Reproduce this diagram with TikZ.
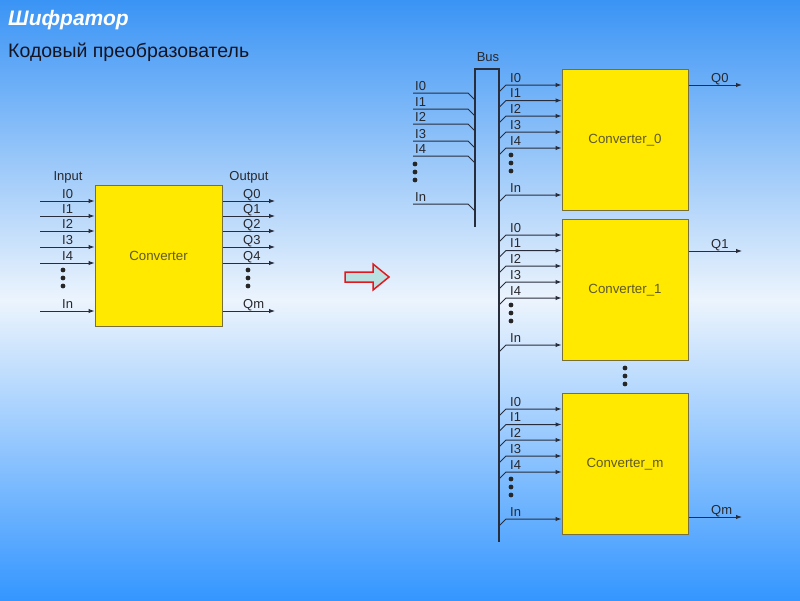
\documentclass[tikz,border=0pt]{standalone}
\usepackage{fontspec}
\setmainfont{Liberation Sans}
\usetikzlibrary{arrows.meta}
\definecolor{bgtop}{RGB}{58,148,245}
\definecolor{bgmid}{RGB}{236,244,253}
\definecolor{bgbot}{RGB}{52,150,255}
\definecolor{boxfill}{RGB}{255,233,0}
\definecolor{boxline}{RGB}{120,112,60}
\definecolor{wire}{RGB}{40,45,60}
\definecolor{lbl}{RGB}{40,40,45}
\definecolor{convtxt}{RGB}{95,90,40}
\definecolor{arrfill}{RGB}{185,225,225}
\definecolor{arrline}{RGB}{225,25,30}
\definecolor{subtxt}{RGB}{20,20,35}
\tikzset{
  cbox/.style={draw=boxline, line width=1pt, fill=boxfill, minimum width=126pt,
    minimum height=141pt, inner sep=0pt, text=convtxt, font=\fontsize{13.3}{15}\selectfont},
  wirepen/.style={draw=wire, line width=1pt},
  sig/.style={wirepen, -{Latex[length=6pt,width=4.5pt]}},
  buspen/.style={draw=wire, line width=2pt},
  lab/.style={anchor=base west, inner sep=0pt, text=lbl, font=\fontsize{13}{15}\selectfont},
  dotmark/.style={circle, fill=black!85, inner sep=0pt, minimum size=4.8pt},
}
\begin{document}
\begin{tikzpicture}[x=1pt,y=-1pt]
\useasboundingbox (0,0) rectangle (800,600);
\shade[top color=bgtop, bottom color=bgmid] (0,0) rectangle (800,300);
\shade[top color=bgmid, bottom color=bgbot] (0,300) rectangle (800,600);

\node[anchor=base west, inner sep=0pt, text=white, font=\fontsize{21}{24}\selectfont\bfseries\itshape] (title) at (8,25) {Шифратор};
\node[anchor=base west, inner sep=0pt, text=subtxt, font=\fontsize{19.5}{22}\selectfont] (sub) at (8,57) {Кодовый преобразователь};

% ---- left converter ----
\node[cbox, minimum width=127pt] (conv) at (158.5,255.5) {Converter};
\node[lab, anchor=base] (inlab) at (68,180.5) {Input};
\node[lab, anchor=base] (outlab) at (249,180.5) {Output};
\foreach \y/\t [count=\i] in {201/I0,216/I1,231/I2,247/I3,263/I4,311/In} {
  \coordinate (li\i) at (40,\y);
  \draw[sig] (li\i) -- (conv.west |- li\i);
  \node[lab] (lil\i) at (62,\y-3) {\t};
}
\foreach \y/\t [count=\i] in {201/Q0,216/Q1,231/Q2,247/Q3,263/Q4,311/Qm} {
  \coordinate (lo\i) at (275,\y);
  \draw[sig] (conv.east |- lo\i) -- (lo\i);
  \node[lab] (lol\i) at (243,\y-3) {\t};
}
\foreach \y [count=\i] in {270,278,286} {
  \node[dotmark] (ldi\i) at (63,\y) {};
  \node[dotmark] (ldo\i) at (248,\y) {};
}

% ---- red arrow ----
\draw[draw=arrline, fill=arrfill, line width=1.5pt, line join=miter]
  (345,272) -- (373,272) -- (373,264) -- (389,277) -- (373,290) -- (373,282) -- (345,282) -- cycle;

% ---- bus ----
\coordinate (busA) at (475,227);
\coordinate (busB) at (475,69);
\coordinate (busC) at (499,69);
\coordinate (busD) at (499,542);
\draw[buspen] (busA) -- (busB) -- (busC) -- (busD);
\node[lab, anchor=base] (buslab) at (488,61.5) {Bus};
\foreach \y/\t [count=\i] in {93/I0,109/I1,124/I2,141/I3,156/I4,204/In} {
  \coordinate (bs\i) at (413,\y);
  \coordinate (be\i) at (475,\y+7);
  \draw[wirepen] (bs\i) -- (468,\y) -- (be\i);
  \node[lab] (bl\i) at (415,\y-3) {\t};
}
\foreach \y [count=\i] in {164,172,180} {
  \node[dotmark] (bd\i) at (415,\y) {};
}

% ---- converter blocks ----
\foreach \top/\name/\k in {69/Converter\_0/0, 219/Converter\_1/1, 393/Converter\_m/m} {
  \node[cbox] (cv\k) at (625,\top+71) {\name};
  \foreach \o/\t [count=\i] in {16/I0,31.5/I1,47/I2,63/I3,79/I4,126/In} {
    \coordinate (cs\k\i) at (499,\top+\o+7);
    \coordinate (ct\k\i) at (562,\top+\o);
    \draw[sig] (cs\k\i) -- (506,\top+\o) -- (cv\k.west |- ct\k\i);
    \node[lab] (cl\k\i) at (510,\top+\o-3) {\t};
  }
  \foreach \o [count=\i] in {86,94,102} {
    \node[dotmark] (cd\k\i) at (511,\top+\o) {};
  }
}
\coordinate (q0) at (742,85);
\coordinate (q1) at (742,251);
\coordinate (qm) at (742,517);
\draw[sig] (cv0.east |- q0) -- (q0);
\draw[sig] (cv1.east |- q1) -- (q1);
\draw[sig] (cvm.east |- qm) -- (qm);
\node[lab] (q0l) at (711,82) {Q0};
\node[lab] (q1l) at (711,248) {Q1};
\node[lab] (qml) at (711,514) {Qm};
\foreach \y [count=\i] in {368,376,384} {
  \node[dotmark] (md\i) at (625,\y) {};
}
\end{tikzpicture}
\end{document}
